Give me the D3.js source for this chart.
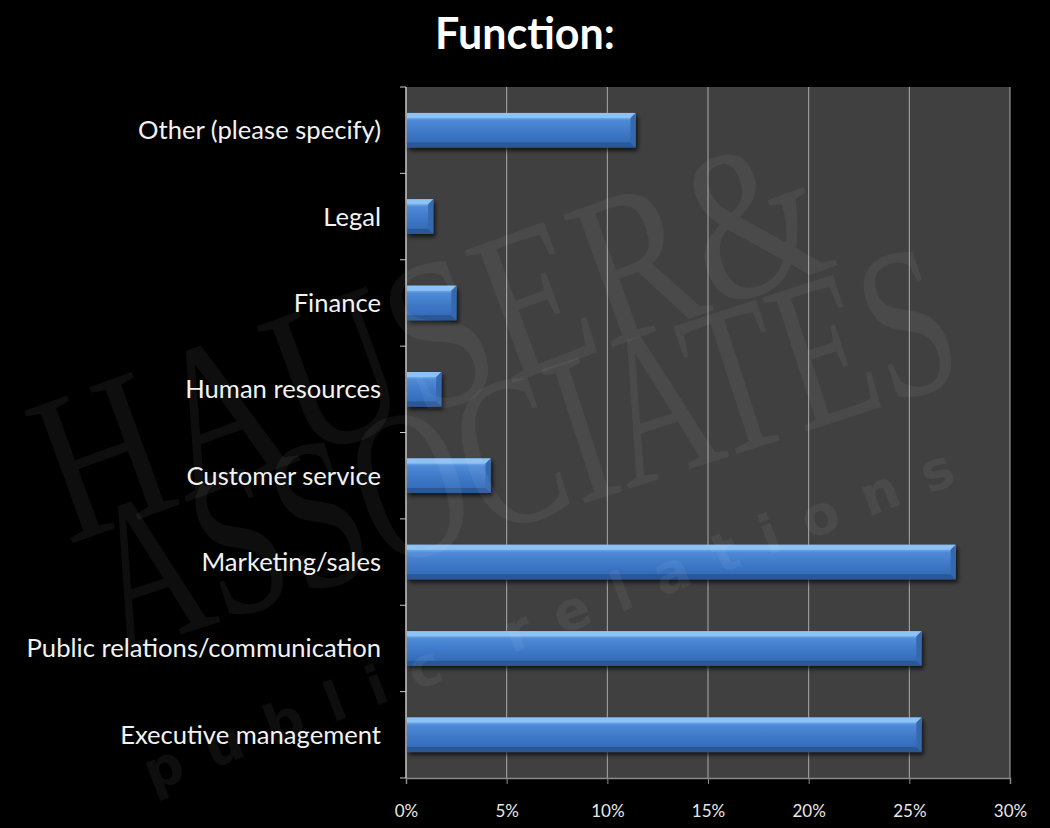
<!DOCTYPE html>
<html>
<head>
<meta charset="utf-8">
<script src="https://cdn.jsdelivr.net/npm/d3@7"></script>
<style>
  html, body { margin: 0; padding: 0; background: #000; }
  svg { display: block; }
</style>
</head>
<body>
<svg id="chart" width="1050" height="828"></svg>
<script>
// Survey responses by job function (percent of respondents)
const categories = [
  "Other (please specify)",
  "Legal",
  "Finance",
  "Human resources",
  "Customer service",
  "Marketing/sales",
  "Public relations/communication",
  "Executive management"
];
const values = [11.4, 1.35, 2.5, 1.75, 4.2, 27.3, 25.6, 25.6];
const xTicks = [0, 5, 10, 15, 20, 25, 30];
const tickLabels = ["0%", "5%", "10%", "15%", "20%", "25%", "30%"];
const titleText = "Function:";

const W = 1050, H = 828;
const plot = { left: 406, right: 1010, top: 87, bottom: 778 };
const font = "Lato, 'Open Sans', sans-serif";

const svg = d3.select("#chart");

const x = d3.scaleLinear().domain([0, 30]).range([plot.left, plot.right]);
const yBand = d3.scaleBand().domain(categories).range([plot.top, plot.bottom]).paddingInner(0.6).paddingOuter(0.3);
const yCell = d3.scaleBand().domain(categories).range([plot.top, plot.bottom]).padding(0);

// defs: bar shading and drop shadow
const defs = svg.append("defs");
const grad = defs.append("linearGradient").attr("id", "barGrad")
  .attr("x1", 0).attr("y1", 0).attr("x2", 0).attr("y2", 1);
[
  [0, "#7db5ee"], [0.14, "#6fa8e8"], [0.22, "#4f8ad6"], [0.55, "#3e79c8"],
  [0.85, "#346cb9"], [1, "#2a5a9e"]
].forEach(([o, c]) => grad.append("stop").attr("offset", o).attr("stop-color", c));

const shadow = defs.append("filter").attr("id", "barShadow")
  .attr("x", "-10%").attr("y", "-30%").attr("width", "130%").attr("height", "180%");
shadow.append("feDropShadow").attr("dx", 2).attr("dy", 3).attr("stdDeviation", 2.2)
  .attr("flood-color", "#000").attr("flood-opacity", 0.7);

// background
svg.append("rect").attr("width", W).attr("height", H).attr("fill", "#000");

// plot area
svg.append("rect")
  .attr("x", plot.left).attr("y", plot.top)
  .attr("width", plot.right - plot.left).attr("height", plot.bottom - plot.top)
  .attr("fill", "#404040");

// vertical gridlines
svg.append("g").selectAll("line").data(xTicks.slice(1)).join("line")
  .attr("x1", d => x(d)).attr("x2", d => x(d))
  .attr("y1", plot.top).attr("y2", plot.bottom)
  .attr("stroke", "#a9a9a9").attr("stroke-width", 1);

// bottom axis
const xAxis = d3.axisBottom(x).tickValues(xTicks).tickSize(6)
  .tickFormat((d, i) => tickLabels[i]);
const gx = svg.append("g").attr("transform", `translate(0,${plot.bottom})`).call(xAxis);
gx.select(".domain").attr("stroke", "#8a8a8a").attr("stroke-width", 1.5);
gx.selectAll(".tick line").attr("stroke", "#8a8a8a");
gx.selectAll(".tick text")
  .attr("fill", "#e8e8e8").attr("font-family", font).attr("font-size", 17)
  .attr("y", 39).attr("dy", 0);

// left axis: tick marks at category boundaries
const boundaries = categories.map(c => yCell(c)).concat([plot.bottom]);
svg.append("line")
  .attr("x1", plot.left).attr("x2", plot.left)
  .attr("y1", plot.top).attr("y2", plot.bottom)
  .attr("stroke", "#c8c8c8").attr("stroke-width", 1.5);
svg.append("g").selectAll("line").data(boundaries).join("line")
  .attr("x1", plot.left - 6).attr("x2", plot.left)
  .attr("y1", d => d).attr("y2", d => d)
  .attr("stroke", "#c8c8c8").attr("stroke-width", 1);

// category labels
svg.append("g").selectAll("text").data(categories).join("text")
  .attr("x", plot.left - 25)
  .attr("y", d => yCell(d) + yCell.bandwidth() / 2)
  .attr("dy", "0.35em")
  .attr("text-anchor", "end")
  .attr("fill", "#f2f2f2")
  .attr("font-family", font)
  .attr("font-size", 25.6)
  .text(d => d);

// bars with bevelled edges
const bev = 5;
const bars = svg.append("g").selectAll("g").data(categories).join("g")
  .attr("filter", "url(#barShadow)");
bars.each(function (c, i) {
  const g = d3.select(this);
  const x0 = x(0) + 1, x1 = x(values[i]);
  const y0 = yBand(c), y1 = yBand(c) + yBand.bandwidth();
  const b = Math.min(bev, (x1 - x0) / 3);
  g.append("rect").attr("x", x0).attr("y", y0)
    .attr("width", x1 - x0).attr("height", y1 - y0).attr("fill", "url(#barGrad)");
  g.append("polygon")
    .attr("points", [[x0, y0], [x1, y0], [x1 - b, y0 + b], [x0, y0 + b]].join(" "))
    .attr("fill", "#8cc2f6");
  g.append("polygon")
    .attr("points", [[x0, y1], [x1, y1], [x1 - b, y1 - b], [x0, y1 - b]].join(" "))
    .attr("fill", "#2a5897");
  g.append("polygon")
    .attr("points", [[x1, y0], [x1, y1], [x1 - b, y1 - b], [x1 - b, y0 + b]].join(" "))
    .attr("fill", "#3567ad");
});

// watermark
const wm = svg.append("g").attr("pointer-events", "none").attr("fill", "#ffffff").attr("fill-opacity", 0.055);
wm.append("text")
  .attr("transform", "translate(68,545) rotate(-20) scale(0.8,1)")
  .attr("font-family", "'Liberation Serif', 'DejaVu Serif', serif")
  .attr("font-size", 215)
  .text("HAUSER&");
wm.append("text")
  .attr("transform", "translate(118,655) rotate(-18) scale(0.7,1)")
  .attr("font-family", "'Liberation Serif', 'DejaVu Serif', serif")
  .attr("font-size", 215)
  .text("ASSOCIATES");
wm.append("text")
  .attr("transform", "translate(152,792) rotate(-21)")
  .attr("font-family", "'DejaVu Sans', sans-serif")
  .attr("font-weight", "bold")
  .attr("font-size", 54)
  .attr("letter-spacing", 26)
  .text("public relations");

// title
svg.append("text")
  .attr("x", W / 2).attr("y", 49)
  .attr("text-anchor", "middle")
  .attr("fill", "#ffffff")
  .attr("font-family", font)
  .attr("font-weight", "bold")
  .attr("font-size", 43)
  .text(titleText);
</script>
</body>
</html>
